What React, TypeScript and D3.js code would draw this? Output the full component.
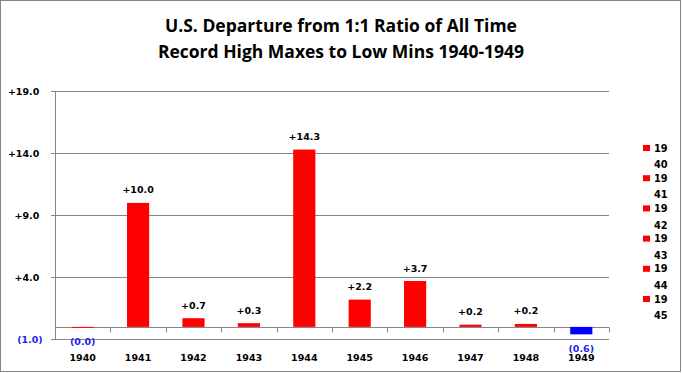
import React, { useRef, useEffect } from 'react';
import * as d3 from 'd3';

// Data
const years = ['1940', '1941', '1942', '1943', '1944', '1945', '1946', '1947', '1948', '1949'];
const departures = [-0.04, 10.0, 0.7, 0.3, 14.3, 2.2, 3.7, 0.18, 0.24, -0.6];
const barColors = ['#FF0000', '#FF0000', '#FF0000', '#FF0000', '#FF0000', '#FF0000', '#FF0000', '#FF0000', '#FF0000', '#0000FF'];
const yTicks = [-1, 4, 9, 14, 19];
const legendYears = ['1940', '1941', '1942', '1943', '1944', '1945'];
const titleLines = ['U.S. Departure from 1:1 Ratio of All Time', 'Record High Maxes to Low Mins 1940-1949'];

const fmt = (v: number) => (v < 0 ? `(${Math.abs(v).toFixed(1)})` : `+${v.toFixed(1)}`);

const App = () => {
  const svgRef = useRef<SVGSVGElement>(null);

  useEffect(() => {
    if (!svgRef.current) return;
    const svg = d3.select(svgRef.current);
    svg.selectAll('*').remove();

    const width = 682;
    const height = 373;
    const plot = { left: 55, right: 609, top: 91.3, bottom: 339.3 };
    const grey = '#868686';
    const blue = '#2424EC';
    const labelFont = 'DejaVu Sans, Verdana, sans-serif';

    svg.attr('width', width).attr('height', height).style('background', '#fff');

    // рамка
    svg.append('rect')
      .attr('x', 0.5).attr('y', 0.5)
      .attr('width', 680).attr('height', 371)
      .attr('fill', 'none').attr('stroke', grey);

    // заголовок
    svg.append('g').selectAll('text')
      .data(titleLines)
      .enter()
      .append('text')
      .attr('x', 341)
      .attr('y', (d, i) => 31.5 + i * 26)
      .attr('text-anchor', 'middle')
      .attr('font-family', '"Open Sans", Lato, sans-serif')
      .attr('font-weight', 'bold')
      .attr('font-size', 17.5)
      .attr('fill', '#000')
      .text(d => d);

    const x = d3.scaleBand<string>()
      .domain(years)
      .range([plot.left, plot.right])
      .paddingInner(0.6)
      .paddingOuter(0.3);

    const y = d3.scaleLinear()
      .domain([-1, 19])
      .range([plot.bottom, plot.top]);

    // ось Y с сеткой
    const yAxis = d3.axisLeft(y)
      .tickValues(yTicks)
      .tickSizeInner(-(plot.right - plot.left))
      .tickSizeOuter(0)
      .tickFormat(d => fmt(+d));

    const yg = svg.append('g')
      .attr('transform', `translate(${plot.left},0)`)
      .call(yAxis);
    yg.select('.domain').attr('stroke', grey);
    yg.selectAll('.tick line').attr('stroke', grey).attr('x1', -4).attr('shape-rendering', 'crispEdges');
    yg.selectAll<SVGTextElement, number>('.tick text')
      .attr('x', d => (d < 0 ? -12.3 : -15.7))
      .attr('dy', '0.36em')
      .attr('font-family', labelFont)
      .attr('font-weight', 'bold')
      .attr('font-size', 9.5)
      .attr('fill', d => (d < 0 ? blue : '#000'));

    // категориальная ось на нуле
    const zeroY = Math.round(y(0)) + 0.5;
    svg.append('line')
      .attr('x1', plot.left).attr('x2', plot.right)
      .attr('y1', zeroY).attr('y2', zeroY)
      .attr('stroke', grey);
    svg.append('g').selectAll('line')
      .data(d3.range(years.length + 1))
      .enter()
      .append('line')
      .attr('x1', i => Math.round(plot.left + i * x.step()) + 0.5)
      .attr('x2', i => Math.round(plot.left + i * x.step()) + 0.5)
      .attr('y1', zeroY)
      .attr('y2', zeroY + 5)
      .attr('stroke', grey);

    // столбцы
    svg.append('g').selectAll('rect')
      .data(departures)
      .enter()
      .append('rect')
      .attr('x', (d, i) => x(years[i])!)
      .attr('width', x.bandwidth())
      .attr('y', d => y(Math.max(0, d)))
      .attr('height', d => Math.max(1, Math.abs(y(d) - y(0))))
      .attr('fill', (d, i) => barColors[i]);

    // подписи значений
    svg.append('g').selectAll('text')
      .data(departures)
      .enter()
      .append('text')
      .attr('x', (d, i) => x(years[i])! + x.bandwidth() / 2)
      .attr('y', d => (d < 0 ? y(d) + 17.5 : y(d) - 9.5))
      .attr('text-anchor', 'middle')
      .attr('font-family', labelFont)
      .attr('font-weight', 'bold')
      .attr('font-size', 9.5)
      .attr('fill', d => (d < 0 ? blue : '#000'))
      .text(d => fmt(d));

    // подписи категорий
    svg.append('g').selectAll('text')
      .data(years)
      .enter()
      .append('text')
      .attr('x', d => x(d)! + x.bandwidth() / 2)
      .attr('y', 360.7)
      .attr('text-anchor', 'middle')
      .attr('font-family', labelFont)
      .attr('font-weight', 'bold')
      .attr('font-size', 9.5)
      .attr('fill', '#000')
      .text(d => d);

    // легенда (обрезанная, как в оригинале)
    const lg = svg.append('g').selectAll('g')
      .data(legendYears)
      .enter()
      .append('g')
      .attr('transform', (d, i) => `translate(643,${148 + i * 30.2})`);
    lg.append('rect')
      .attr('x', 0).attr('y', -3)
      .attr('width', 7).attr('height', 6)
      .attr('fill', '#FF0000');
    lg.append('text')
      .attr('x', 11).attr('y', 3.5)
      .attr('font-family', labelFont).attr('font-weight', 'bold').attr('font-size', 9.8)
      .text(d => d.slice(0, 2));
    lg.append('text')
      .attr('x', 11).attr('y', 20.2)
      .attr('font-family', labelFont).attr('font-weight', 'bold').attr('font-size', 9.8)
      .text(d => d.slice(2));
  }, []);

  return (
    <div style={{ position: 'fixed', left: 0, top: 0 }}>
      <svg ref={svgRef} style={{ display: 'block' }}></svg>
    </div>
  );
};

export default App;
